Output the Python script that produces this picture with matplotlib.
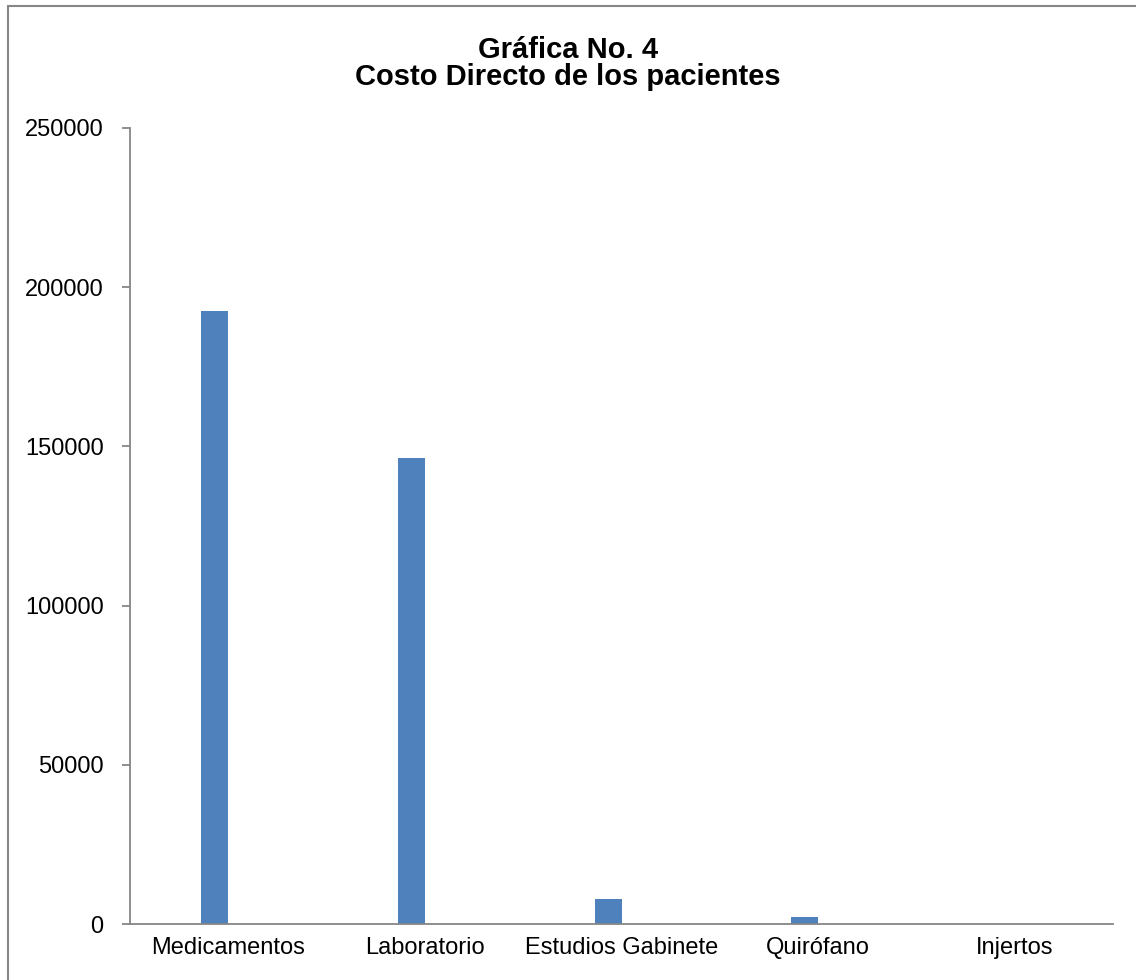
import matplotlib.pyplot as plt
from matplotlib.patches import Rectangle
import numpy as np

plt.rcParams['font.family'] = ['Liberation Sans', 'DejaVu Sans']

categorias = ['Medicamentos', 'Laboratorio', 'Estudios Gabinete', 'Quirófano', 'Injertos']
costos = [192500, 146300, 7900, 2100, 0]
yticks = [0, 50000, 100000, 150000, 200000, 250000]

azul = '#4F81BD'
gris = '#868686'

fig = plt.figure(figsize=(11.36, 9.8), dpi=100)
ax = fig.add_axes([0.1144, 0.0571, 0.8654, 0.8123])

x = np.arange(len(categorias))
ancho = 0.137
ax.bar(x - ancho / 2, costos, width=ancho, color=azul)

ax.set_xlim(-0.5, len(categorias) - 0.5)
ax.set_ylim(0, 250000)
ax.set_yticks(yticks)
ax.set_yticklabels([str(v) for v in yticks], fontsize=17)
ax.set_xticks(x)
ax.set_xticklabels(categorias, fontsize=17)

for lado in ['top', 'right']:
    ax.spines[lado].set_visible(False)
for lado in ['left', 'bottom']:
    ax.spines[lado].set_color(gris)
    ax.spines[lado].set_linewidth(1.3)
ax.tick_params(axis='y', length=6, width=1.3, color=gris, pad=13)
ax.tick_params(axis='x', length=0, pad=9)

fig.text(0.5, 0.949, 'Gráfica No. 4', ha='center', va='center',
         fontsize=21, fontweight='bold')
fig.text(0.5, 0.921, 'Costo Directo de los pacientes', ha='center', va='center',
         fontsize=21, fontweight='bold')

# marco de la gráfica (los bordes derecho e inferior quedan fuera)
fig.patches.append(Rectangle((7.5 / 1136, -0.02), 1.0, 1.0134, transform=fig.transFigure,
                             fill=False, edgecolor=gris, linewidth=1.5))

fig.savefig('out.png', dpi=100)
